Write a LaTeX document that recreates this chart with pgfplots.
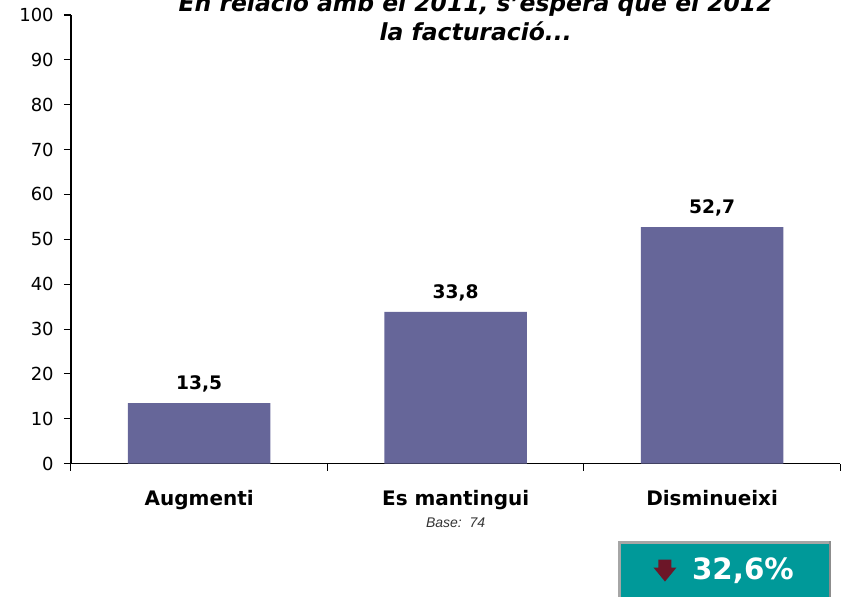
\documentclass[border=0pt]{standalone}
\usepackage{pgfplots}
\pgfplotsset{compat=1.18}
\usepackage{fontspec}
\setmainfont{DejaVu Sans}
\newfontfamily\arialf{Liberation Sans}
\definecolor{barblue}{RGB}{102,102,153}
\definecolor{boxteal}{RGB}{0,153,153}
\definecolor{arrowred}{RGB}{108,22,40}

\begin{document}
\begin{tikzpicture}
\begin{axis}[
  at={(0,0)}, anchor=south west,
  scale only axis, width=577.5pt, height=336.75pt,
  xmin=-0.5, xmax=2.5, ymin=0, ymax=100,
  axis x line*=bottom, axis y line*=left,
  axis line style={black, line width=1pt},
  ybar, bar width=107pt,
  xtick={0,1,2}, xticklabels={Augmenti, Es mantingui, Disminueixi},
  major x tick style={draw=none},
  minor xtick={-0.5,0.5,1.5,2.5},
  ytick={0,10,...,100},
  tick align=outside, major tick length=5.25pt, minor tick length=5.25pt,
  tick style={black, line width=0.8pt},
  xticklabel style={font=\bfseries\fontsize{15}{18}\selectfont, anchor=base, yshift=-26pt},
  yticklabel style={font=\fontsize{13.5}{15}\selectfont, anchor=east, inner sep=0pt, xshift=-7.5pt},
  /pgf/number format/assume math mode=true,
  nodes near coords={\pgfmathprintnumber[use comma,fixed,fixed zerofill,precision=1]{\pgfplotspointmeta}},
  nodes near coords style={font=\bfseries\fontsize{14}{16}\selectfont, anchor=base, yshift=10pt, black},
]
\addplot[fill=barblue, draw=none] coordinates {(0,13.5) (1,33.8) (2,52.7)};
\end{axis}
\begin{scope}[x=0.75pt, y=0.75pt]
\useasboundingbox (-71,-133) rectangle (770,464);
\node[anchor=base, font=\bfseries\itshape\fontsize{17.6}{20}\selectfont] at (405,452) {En relació amb el 2011, s'espera que el 2012};
\node[anchor=base, font=\bfseries\itshape\fontsize{17.6}{20}\selectfont] at (405,423) {la facturació...};
\node[font=\arialf\itshape\fontsize{10.5}{12}\selectfont, text=black!80] at (385,-59) {Base:\ \ 74};
\fill[gray!70] (547,-77) rectangle (761,-140);
\fill[black!45] (759,-77) rectangle (761,-140);
\fill[boxteal] (550,-80) rectangle (759,-140);
\fill[arrowred] (588,-96) -- (601,-96) -- (601,-104) -- (606,-104) -- (594.5,-118) -- (583,-104) -- (588,-104) -- cycle;
\node[anchor=base, text=white, font=\bfseries\fontsize{22}{26}\selectfont] at (672.5,-116) {32,6\%};
\end{scope}
\end{tikzpicture}
\end{document}
